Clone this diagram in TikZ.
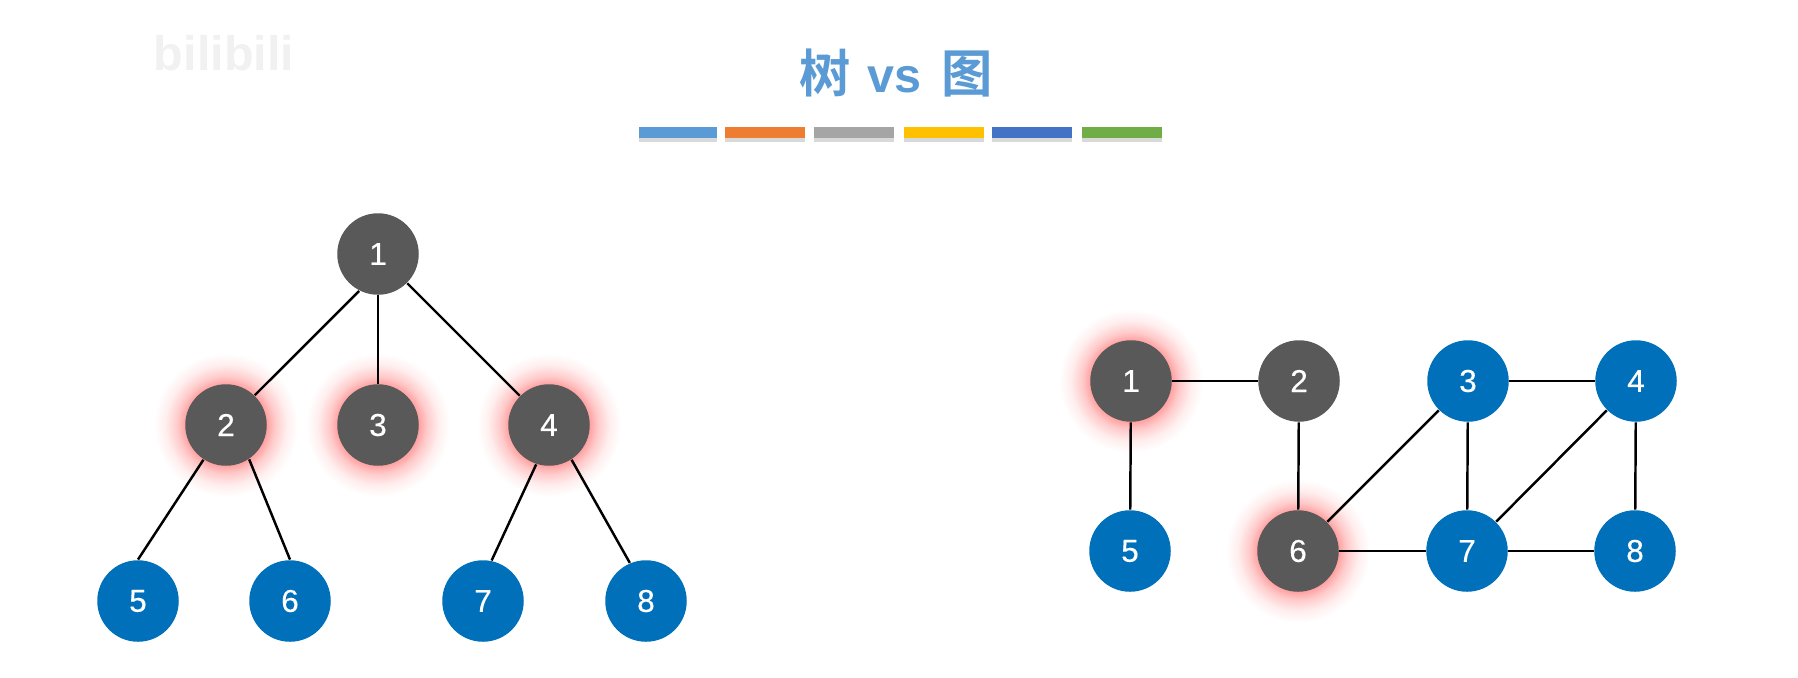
\documentclass[tikz,border=0pt]{standalone}
\usepackage{fontspec}
\setsansfont{Liberation Sans}
\newfontfamily\cjkfont{Noto Sans CJK SC}[BoldFont={* Bold}]
\newfontfamily\digitfont{Liberation Sans}[FakeBold=0.3]
\usepackage{xcolor}
\usetikzlibrary{backgrounds, shadows}
\definecolor{titleblue}{HTML}{5B9BD5}
\definecolor{nodedark}{HTML}{595959}
\definecolor{nodeblue}{HTML}{0070BA}
\definecolor{glowred}{HTML}{FFA0A0}
\definecolor{logogray}{HTML}{F1F1F1}
\pgfdeclareradialshading{glowfade}{\pgfpointorigin}{%
    color(0bp)=(glowred); color(14bp)=(glowred);
    color(17bp)=(glowred!55!white); color(21bp)=(glowred!18!white);
    color(25bp)=(white); color(50bp)=(white)}
\tikzset{
    vertex/.style={circle, inner sep=0pt, minimum size=0.815cm, text=white,
        font=\digitfont\fontsize{9}{10}\selectfont},
    darkvertex/.style={vertex, fill=nodedark},
    bluevertex/.style={vertex, fill=nodeblue},
    edge/.style={line width=0.7pt, black},
    colorbar/.style={drop shadow={shadow xshift=0pt, shadow yshift=-1pt, opacity=0.3}}
}

\begin{document}
\begin{tikzpicture}
    \useasboundingbox (0,0) rectangle (17.98,6.77);
    \node[font=\sffamily\bfseries\fontsize{13.8}{16}\selectfont, text=logogray] (logo) at (2.24,6.24) {bilibili};
    \node[font=\sffamily\bfseries\fontsize{13.8}{16}\selectfont, text=titleblue] (title) at (8.96,6.04)
        {{\cjkfont\bfseries\fontsize{14.6}{16}\selectfont 树}\hspace{1pt} vs \hspace{1.6pt}{\cjkfont\bfseries\fontsize{14.6}{16}\selectfont 图}};
    \foreach \x/\w/\c in {6.39/0.78/5B9BD5, 7.25/0.80/ED7D31, 8.14/0.80/A5A5A5,
                          9.04/0.80/FFC000, 9.92/0.80/4472C4, 10.82/0.80/70AD47} {
        \definecolor{barcolor}{HTML}{\c}
        \fill[barcolor, colorbar] (\x,5.39) rectangle ++(\w,0.11);
    }
    \begin{scope}[shift={(0,0)}]
        \foreach \n/\x/\y/\s in {1/3.78/4.23/darkvertex, 2/2.26/2.52/darkvertex,
                                 3/3.78/2.52/darkvertex, 4/5.49/2.52/darkvertex,
                                 5/1.38/0.76/bluevertex, 6/2.90/0.76/bluevertex,
                                 7/4.83/0.76/bluevertex, 8/6.46/0.76/bluevertex}
            \node[\s] (tree\n) at (\x,\y) {\n};
        \foreach \a/\p/\b/\q in {1/243/2/46, 1/270/3/90, 1/315/4/135, 2/237/5/90,
                                 2/304/6/90, 4/252/7/78, 4/303/8/113}
            \draw[edge] (tree\a.\p) -- (tree\b.\q);
    \end{scope}
    \begin{scope}[shift={(0,0)}]
        \foreach \n/\x/\y/\s in {1/11.31/2.96/darkvertex, 2/12.99/2.96/darkvertex,
                                 3/14.68/2.96/bluevertex, 4/16.36/2.96/bluevertex,
                                 5/11.30/1.26/bluevertex, 6/12.98/1.26/darkvertex,
                                 7/14.67/1.26/bluevertex, 8/16.35/1.26/bluevertex}
            \node[\s] (graph\n) at (\x,\y) {\n};
        \foreach \a/\b in {1/2, 1/5, 2/6, 3/4, 3/6, 3/7, 4/7, 4/8, 6/7, 7/8}
            \draw[edge] (graph\a) -- (graph\b);
    \end{scope}
    \begin{pgfonlayer}{background}
        \foreach \n in {tree2, tree3, tree4, graph1, graph6}
            \shade[shading=glowfade] (\n) circle (0.72);
    \end{pgfonlayer}
\end{tikzpicture}
\end{document}
